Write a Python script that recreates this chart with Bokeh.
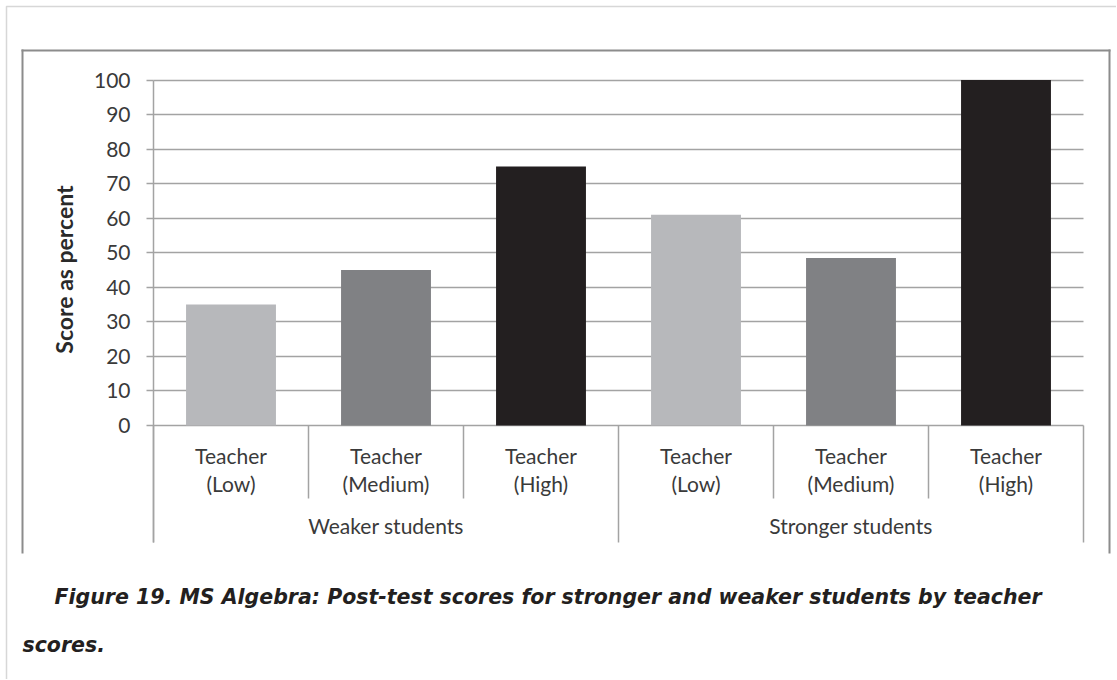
import math
from bokeh.plotting import figure
from bokeh.models import Range1d, FixedTicker, Label, BoxAnnotation, ColumnDataSource
from bokeh.core.properties import value
from bokeh.embed import file_html
from bokeh.resources import INLINE

# ---------------- data ----------------
groups = ["Weaker students", "Stronger students"]
teacher_prefix = "Teacher"
teacher_levels = ["(Low)", "(Medium)", "(High)"]
weaker_scores = [35, 45, 75]
stronger_scores = [61, 48.5, 100]
level_colors = ["#b7b8bb", "#808184", "#231f20"]
y_ticks = [0, 10, 20, 30, 40, 50, 60, 70, 80, 90, 100]
y_title = "Score as percent"
caption_line1 = "Figure 19. MS Algebra: Post-test scores for stronger and weaker students by teacher"
caption_line2 = "scores."

# ---------------- layout (canvas pixels) ----------------
W, H = 1116, 679
PLOT_L, PLOT_R = 153, 1083        # plot area horizontal extent
ZERO_Y, TOP_Y = 425, 79.5         # pixel rows of 0 and 100
Y_MAX = 100
N_CAT = len(groups) * len(teacher_levels)
PX_X = (PLOT_R - PLOT_L) / N_CAT
PX_Y = (ZERO_Y - TOP_Y) / Y_MAX
BASE_SHIFT = 8                    # alphabetic baseline correction


def dx(px):
    return (px - PLOT_L) / PX_X


def dy(py):
    return (ZERO_Y - py) / PX_Y


def dyb(py):
    return dy(py - BASE_SHIFT)


# category positions (centre of each slot, in category units)
cat_index = list(range(N_CAT))
cat_x = [i + 0.5 for i in cat_index]
scores = weaker_scores + stronger_scores
colors = level_colors * len(groups)
src = ColumnDataSource(dict(x=cat_x, top=scores, color=colors))

p = figure(
    width=W, height=H,
    x_range=Range1d(dx(0), dx(W)),
    y_range=Range1d(dy(H), dy(0)),
    min_border=0,
    x_axis_location=None,
    output_backend="svg",
    toolbar_location=None,
)
p.outline_line_color = None
p.background_fill_color = "white"
p.border_fill_color = "white"

GRID = "#a3a3a3"
TXT = "#3a3a3a"
CHART_FONT = "Lato"
Y_AXIS_BOTTOM = dy(542)

# y axis, pinned to the left edge of the plot area
p.yaxis.fixed_location = 0
p.yaxis.bounds = (Y_AXIS_BOTTOM, Y_MAX)
p.yaxis.ticker = FixedTicker(ticks=y_ticks)
p.yaxis.major_tick_out = 7
p.yaxis.major_tick_in = 0
p.yaxis.minor_tick_out = 0
p.yaxis.minor_tick_in = 0
p.yaxis.axis_line_color = GRID
p.yaxis.axis_line_width = 1.5
p.yaxis.major_tick_line_color = GRID
p.yaxis.major_tick_line_width = 1.5
p.yaxis.major_label_text_font = CHART_FONT
p.yaxis.major_label_text_font_size = "21px"
p.yaxis.major_label_text_color = TXT
p.yaxis.major_label_standoff = 16

p.ygrid.ticker = FixedTicker(ticks=y_ticks)
p.ygrid.grid_line_color = GRID
p.ygrid.grid_line_width = 1.5
p.xgrid.visible = False
try:
    p.ygrid.cross_bounds = (0, N_CAT)
except AttributeError:
    p.ygrid.visible = False
    p.segment(x0=[0] * len(y_ticks), x1=[N_CAT] * len(y_ticks), y0=y_ticks, y1=y_ticks,
              line_color=GRID, line_width=1.5, level="underlay")

# bars
p.vbar(x="x", top="top", width=0.58, fill_color="color", line_color=None, source=src)

# category separators
bounds_x = list(range(N_CAT + 1))
n_per = len(teacher_levels)
sep_bottom = [Y_AXIS_BOTTOM if i % n_per == 0 else dy(498) for i in bounds_x]
p.segment(x0=bounds_x, y0=[0] * len(bounds_x), x1=bounds_x, y1=sep_bottom,
          line_color=GRID, line_width=1.5)

# category labels (two lines)
p.text(x=cat_x, y=[dyb(463)] * N_CAT, text=[teacher_prefix] * N_CAT,
       text_align="center", text_baseline="alphabetic",
       text_font=value(CHART_FONT), text_font_size="21px", text_color=TXT)
p.text(x=cat_x, y=[dyb(491)] * N_CAT, text=teacher_levels * len(groups),
       text_align="center", text_baseline="alphabetic",
       text_font=value(CHART_FONT), text_font_size="21px", text_color=TXT)

# group labels
group_x = [g * n_per + n_per / 2 for g in range(len(groups))]
p.text(x=group_x, y=[dyb(533)] * len(groups), text=groups,
       text_align="center", text_baseline="alphabetic",
       text_font=value(CHART_FONT), text_font_size="21px", text_color=TXT)

# y title
p.add_layout(Label(x=dx(63), y=dy(269), text=y_title, angle=math.pi / 2,
                   text_align="center", text_baseline="middle",
                   text_font=CHART_FONT, text_font_style="bold",
                   text_font_size="23px", text_color="#2a2a2a"))

# boxes
p.add_layout(BoxAnnotation(left=dx(6), right=dx(1400), top=dy(6), bottom=dy(1000),
                           fill_alpha=0, line_color="#7a7a7a", line_width=1.5))
BOXC = "#8c8c8c"
p.add_layout(BoxAnnotation(left=dx(21), right=dx(23), top=dy(49), bottom=dy(553),
                           fill_color=BOXC, fill_alpha=1, line_color=None))
p.add_layout(BoxAnnotation(left=dx(21), right=dx(1110), top=dy(49), bottom=dy(51),
                           fill_color=BOXC, fill_alpha=1, line_color=None))
p.add_layout(BoxAnnotation(left=dx(1108), right=dx(1110), top=dy(49), bottom=dy(553),
                           fill_color=BOXC, fill_alpha=1, line_color=None))

# caption
for txt, x0, base in [(caption_line1, 54, 604), (caption_line2, 22, 652)]:
    p.add_layout(Label(x=dx(x0), y=dyb(base), text=txt,
                       text_align="left", text_baseline="alphabetic",
                       text_font="DejaVu Sans", text_font_style="bold italic",
                       text_font_size="20.5px", text_color="#231f20"))

open("out.html", "w").write(file_html(p, INLINE))
